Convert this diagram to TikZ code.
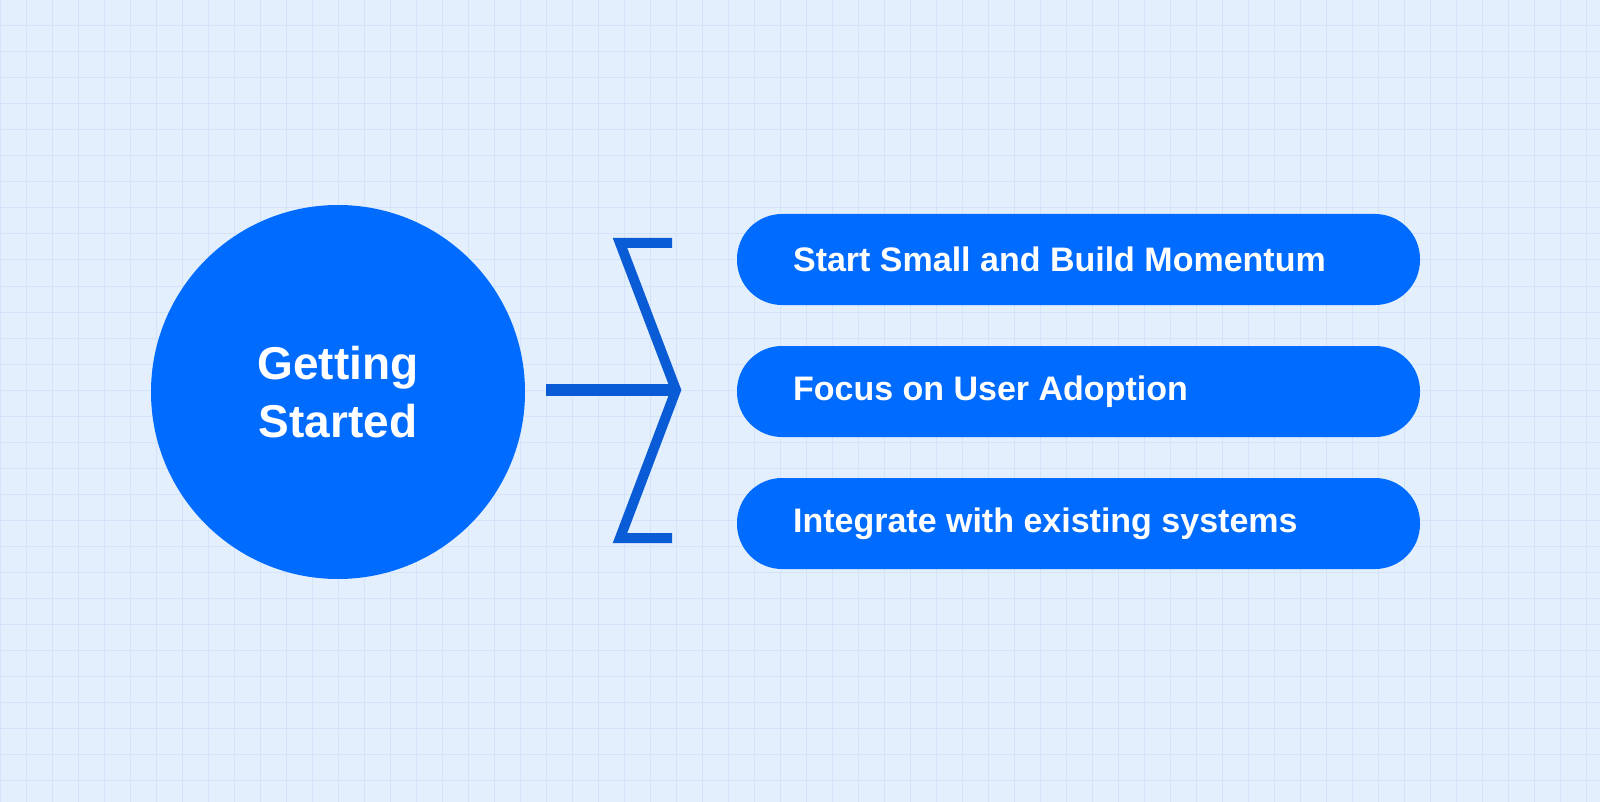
\documentclass[tikz,border=0pt]{standalone}
\usepackage{fontspec}
\setmainfont{Liberation Sans}
\definecolor{bg}{HTML}{E3EFFD}
\definecolor{gridc}{HTML}{D2E3FA}
\definecolor{mainblue}{HTML}{006BFF}
\definecolor{darkblue}{HTML}{0A5BD6}
\begin{document}
\begin{tikzpicture}[x=0.5pt,y=-0.5pt,
  pill/.style={fill=mainblue,rounded corners=22.5pt,minimum width=341.5pt,minimum height=45.5pt,inner sep=0pt},
  pilltext/.style={text=white,font=\bfseries\fontsize{17}{20}\selectfont,anchor=west},
  brack/.style={draw=darkblue,line width=5pt}]
\fill[bg] (0,0) rectangle (1600,802);
\useasboundingbox (0,0) rectangle (1600,802);
\foreach \i in {0,26,...,1600} \draw[gridc,line width=0.5pt] (\i,0) -- (\i,802);
\foreach \j in {0,26,...,802} \draw[gridc,line width=0.5pt] (0,\j) -- (1600,\j);
\node[circle,fill=mainblue,minimum size=187pt,inner sep=0pt] (c) at (338,392) {};
\node[text=white,font=\bfseries\fontsize{23}{29}\selectfont,align=center] (ct) at (c) {Getting\\Started};
\node[pill] (p1) at (1078.5,259.5) {};
\node[pill] (p2) at (1078.5,391.5) {};
\node[pill] (p3) at (1078.5,523.5) {};
\node[pilltext] (t1) at (786,259.5) {Start Small and Build Momentum};
\node[pilltext] (t2) at (786,391.5) {Focus on User Adoption};
\node[pilltext] (t3) at (786,523.5) {Integrate with existing systems};
\coordinate (hs) at (546,390);
\coordinate (tip) at (676,390);
\draw[brack,line width=6pt] (hs) -- (tip);
\draw[brack,miter limit=10] (672,243) -- (620,243) -- (tip) -- (620,538) -- (672,538);
\end{tikzpicture}
\end{document}
